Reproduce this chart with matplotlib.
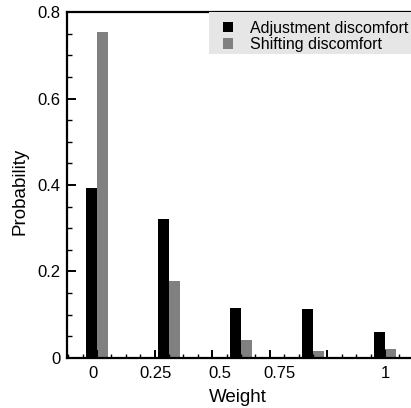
import matplotlib
matplotlib.use("Agg")
import matplotlib.pyplot as plt
from matplotlib.patches import Rectangle
from matplotlib.ticker import MultipleLocator, FixedLocator
import numpy as np

plt.rcParams['font.family'] = ['Liberation Sans', 'DejaVu Sans']

# Data
weights = ['0', '0.25', '0.5', '0.75', '1']
adjustment = [0.394, 0.322, 0.115, 0.113, 0.060]
shifting = [0.754, 0.177, 0.041, 0.015, 0.020]
series_names = ['Adjustment discomfort', 'Shifting discomfort']
label_pos = [0.944, 1.8125, 2.708, 3.54, 5.0]

fig = plt.figure(figsize=(4.11, 4.08), dpi=100)
W, H = 411, 408
ax_left, ax_right, ax_top, ax_bottom = 67.3, 411, 12.3, 357.7
ax = fig.add_axes([ax_left / W, (H - ax_bottom) / H,
                   (ax_right - ax_left) / W, (ax_bottom - ax_top) / H])

x = np.arange(1, len(weights) + 1)
bw = 0.145
off = 0.078
ax.bar(x - off, adjustment, bw, color='#000000', label=series_names[0], zorder=1)
ax.bar(x + off, shifting, bw, color='#808080', label=series_names[1], zorder=1)

ax.set_xlim(0.5875, 1 + (411 - 97) / 72)
ax.set_ylim(0, 0.8)

# spines
for s in ['left', 'top', 'bottom']:
    ax.spines[s].set_linewidth(1.6)
ax.spines['right'].set_visible(False)

# y ticks
ax.yaxis.set_major_locator(MultipleLocator(0.2))
ax.yaxis.set_minor_locator(MultipleLocator(0.05))
ax.set_yticks([0, 0.2, 0.4, 0.6, 0.8])
ax.set_yticklabels(['0', '0.2', '0.4', '0.6', '0.8'])
ax.tick_params(axis='y', which='major', direction='in', length=6.5, width=1.4,
               labelsize=12, pad=5)
ax.tick_params(axis='y', which='minor', direction='in', length=3.5, width=1.0)

# x ticks (marks only)
ax.xaxis.set_major_locator(FixedLocator([1.0, 1.8, 2.6, 3.4, 4.2, 5.0]))
ax.xaxis.set_minor_locator(MultipleLocator(0.2))
ax.tick_params(axis='x', which='major', direction='in', length=5.5, width=1.4,
               labelbottom=False)
ax.tick_params(axis='x', which='minor', direction='in', length=2.8, width=1.0)
ax.tick_params(top=False, right=False, which='both')

# x labels via secondary axis
sec = ax.secondary_xaxis('bottom')
sec.set_xticks(label_pos)
sec.set_xticklabels(weights)
sec.tick_params(length=0, labelsize=12, pad=6)
sec.spines['bottom'].set_visible(False)

ax.set_xlabel('Weight', fontsize=13.5)
ax.set_ylabel('Probability', fontsize=13.5)
ax.xaxis.set_label_coords((237.5 - ax_left) / (ax_right - ax_left),
                          (ax_bottom - 389) / (ax_bottom - ax_top))
ax.yaxis.set_label_coords((28 - ax_left) / (ax_right - ax_left),
                          (ax_bottom - 191) / (ax_bottom - ax_top))

# legend background
aw = ax_right - ax_left
ah = ax_bottom - ax_top
rx0 = (209 - ax_left) / aw
ry0 = (ax_bottom - 54) / ah
ax.add_patch(Rectangle((rx0, ry0), 1.0 - rx0, 1.0 - ry0, transform=ax.transAxes,
                       facecolor='#e6e6e6', edgecolor='none', clip_on=False, zorder=3))
leg = ax.legend(loc='upper left',
                bbox_to_anchor=((223 - ax_left) / aw, (ax_bottom - 20.5) / ah),
                frameon=False, fontsize=11.5, borderpad=0, borderaxespad=0,
                handlelength=0.6, handleheight=0.6, handletextpad=1.1,
                labelspacing=0.1)
leg.set_zorder(4)

fig.savefig('out.png', dpi=100)
